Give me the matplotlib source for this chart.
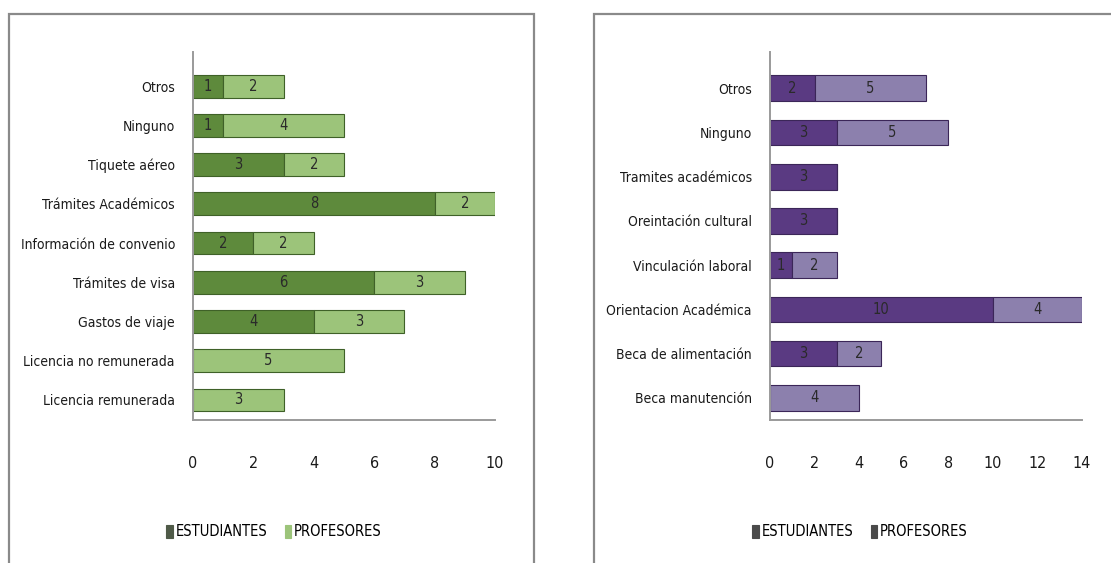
import numpy as np
import matplotlib.pyplot as plt
from matplotlib import font_manager
from matplotlib.patches import Rectangle

# pick a narrow font if one is installed
installed = {(f.name, f.stretch) for f in font_manager.fontManager.ttflist}
names = {n for n, s in installed}
if 'Liberation Sans Narrow' in names:
    plt.rcParams['font.family'] = ['Liberation Sans Narrow', 'DejaVu Sans']
    fs = 11
elif ('DejaVu Sans', 'condensed') in installed or ('DejaVu Sans', 700 - 200) in installed:
    plt.rcParams['font.family'] = ['DejaVu Sans']
    plt.rcParams['font.stretch'] = 'condensed'
    fs = 10
else:
    plt.rcParams['font.family'] = ['Liberation Sans', 'DejaVu Sans']
    fs = 9.5

# Left chart data (top to bottom)
cats_left = ['Otros', 'Ninguno', 'Tiquete aéreo', 'Trámites Académicos',
             'Información de convenio', 'Trámites de visa', 'Gastos de viaje',
             'Licencia no remunerada', 'Licencia remunerada']
est_left = [1, 1, 3, 8, 2, 6, 4, 0, 0]
prof_left = [2, 4, 2, 2, 2, 3, 3, 5, 3]

# Right chart data (top to bottom)
cats_right = ['Otros', 'Ninguno', 'Tramites académicos', 'Oreintación cultural',
              'Vinculación laboral', 'Orientacion Académica',
              'Beca de alimentación', 'Beca manutención']
est_right = [2, 3, 3, 3, 1, 10, 3, 0]
prof_right = [5, 5, 0, 0, 2, 4, 2, 4]

series_names = ['ESTUDIANTES', 'PROFESORES']

W, H = 1111, 563
fig = plt.figure(figsize=(W / 100, H / 100), dpi=100)

# panel frames
fig.patches.append(Rectangle((9 / W, -0.05), (534 - 9) / W, 1.05 - 14 / H,
                             transform=fig.transFigure, fill=False,
                             edgecolor='#8a8a8a', linewidth=1.6))
fig.patches.append(Rectangle((594 / W, -0.05), 0.6, 1.05 - 14 / H,
                             transform=fig.transFigure, fill=False,
                             edgecolor='#8a8a8a', linewidth=1.6))


def draw_panel(rect, cats, est, prof, xmax, colors, ylim, leg_x, leg_colors):
    ax = fig.add_axes(rect)
    y = np.arange(len(cats))
    est = np.array(est)
    prof = np.array(prof)
    b1 = ax.barh(y, est, height=0.58, color=colors[0], edgecolor=colors[2],
                 linewidth=0.8, label=series_names[0])
    b2 = ax.barh(y, prof, left=est, height=0.58, color=colors[1],
                 edgecolor=colors[2], linewidth=0.8, label=series_names[1])
    for i in range(len(cats)):
        if est[i] > 0:
            ax.text(est[i] / 2, y[i], str(est[i]), ha='center', va='center',
                    fontsize=fs + 0.5, color='#2a2a2a')
        if prof[i] > 0:
            ax.text(est[i] + prof[i] / 2, y[i], str(prof[i]), ha='center',
                    va='center', fontsize=fs + 0.5, color='#2a2a2a')
    ax.set_xlim(0, xmax)
    ax.set_ylim(*ylim)
    ax.set_yticks(y)
    ax.set_yticklabels(cats, fontsize=fs, color='#1a1a1a')
    ax.set_xticks(np.arange(0, xmax + 1, 2))
    ax.tick_params(axis='x', length=0, pad=26, labelsize=fs + 1.5, labelcolor='#1a1a1a')
    ax.tick_params(axis='y', length=0, pad=13)
    for s in ['top', 'right']:
        ax.spines[s].set_visible(False)
    ax.spines['left'].set_color('#9a9a9a')
    ax.spines['bottom'].set_color('#9a9a9a')
    ax.spines['left'].set_linewidth(1.4)
    ax.spines['bottom'].set_linewidth(1.4)
    leg = fig.legend(handles=[b1, b2], loc='center', bbox_to_anchor=(leg_x, 1 - 532 / H),
                     ncol=2, frameon=False, fontsize=fs + 0.5, handlelength=0.45,
                     handleheight=0.9, handletextpad=0.2, columnspacing=1.2)
    for h, c in zip(leg.legend_handles, leg_colors):
        h.set_color(c)
    return ax


green = ['#5e8a3c', '#9cc47a', '#3f6128']
purple = ['#5a3a82', '#8c80ad', '#3b2658']

draw_panel([193 / W, 1 - 420 / H, 302 / W, 368 / H], cats_left, est_left,
           prof_left, 10, green, (8.51, -0.87), 274 / W, ['#4f5a48', '#9cc47a'])
draw_panel([770 / W, 1 - 420 / H, 312 / W, 368 / H], cats_right, est_right,
           prof_right, 14, purple, (7.5, -0.82), 860 / W, ['#4a4a4a', '#4a4a4a'])

fig.savefig('out.png', dpi=100)
